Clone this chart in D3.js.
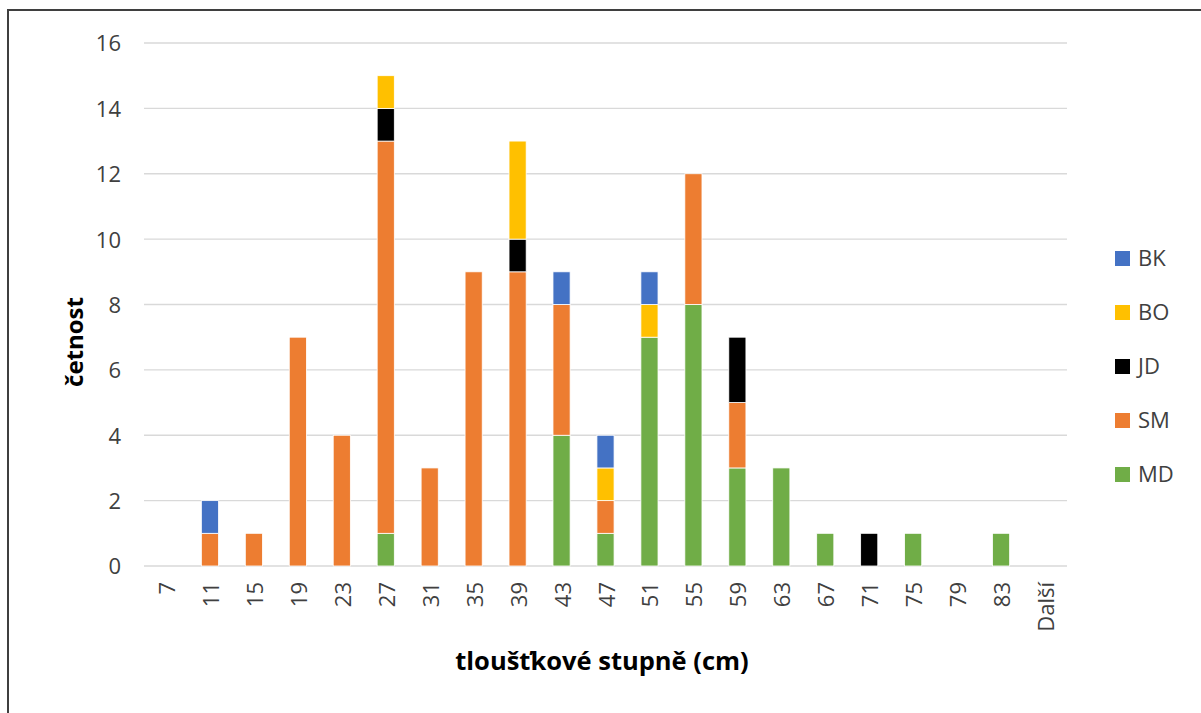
<!DOCTYPE html>
<html>
<head>
<meta charset="utf-8">
<script src="https://cdn.jsdelivr.net/npm/d3@7"></script>
<style>
  html, body { margin: 0; padding: 0; background: #fff; }
  svg { display: block; font-family: "Open Sans", Lato, "Noto Sans", sans-serif; }
</style>
</head>
<body>
<script>
// Diameter classes (cm) and tree counts per species
const categories = ["7","11","15","19","23","27","31","35","39","43","47","51","55","59","63","67","71","75","79","83","Další"];
const MD = [0,0,0,0,0,1,0,0,0,4,1,7,8,3,3,1,0,1,0,1,0];
const SM = [0,1,1,7,4,12,3,9,9,4,1,0,4,2,0,0,0,0,0,0,0];
const JD = [0,0,0,0,0,1,0,0,1,0,0,0,0,2,0,0,1,0,0,0,0];
const BO = [0,0,0,0,0,1,0,0,3,0,1,1,0,0,0,0,0,0,0,0,0];
const BK = [0,1,0,0,0,0,0,0,0,1,1,1,0,0,0,0,0,0,0,0,0];
const yTicks = [0,2,4,6,8,10,12,14,16];

// stacking order bottom -> top
const seriesDefs = [
  { key: "MD", values: MD, color: "#70ad47" },
  { key: "SM", values: SM, color: "#ed7d31" },
  { key: "JD", values: JD, color: "#000000" },
  { key: "BO", values: BO, color: "#ffc000" },
  { key: "BK", values: BK, color: "#4472c4" }
];

const W = 1201, H = 713;
const plot = { left: 144, right: 1067, top: 43, bottom: 566 };
const tickFont = 22;

const svg = d3.select("body").append("svg").attr("width", W).attr("height", H);

// outer frame
svg.append("path")
  .attr("d", `M8,${H + 5} L8,10 L${W + 5},10`)
  .attr("fill", "none").attr("stroke", "#3f3f3f").attr("stroke-width", 2);

const x = d3.scaleBand().domain(categories).range([plot.left, plot.right]).paddingInner(0.61).paddingOuter(0.305);
const y = d3.scaleLinear().domain([0, 16]).range([plot.bottom, plot.top]);

// gridlines
svg.append("g").selectAll("line").data(yTicks).join("line")
  .attr("x1", plot.left).attr("x2", plot.right)
  .attr("y1", d => y(d)).attr("y2", d => y(d))
  .attr("stroke", "#d9d9d9").attr("stroke-width", 1.3);

// y axis labels
const yAxis = d3.axisLeft(y).tickValues(yTicks).tickSize(0).tickPadding(0);
const gy = svg.append("g").attr("transform", `translate(121,0)`).call(yAxis);
gy.select(".domain").remove();
gy.selectAll("text").attr("font-size", tickFont).attr("fill", "#404040")
  .attr("font-family", "'Open Sans', Lato, sans-serif").attr("dy", "0.36em");

// stacked bars
const table = categories.map((c, i) => {
  const row = { cat: c };
  seriesDefs.forEach(s => row[s.key] = s.values[i]);
  return row;
});
const stack = d3.stack().keys(seriesDefs.map(s => s.key));
const stacked = stack(table);

svg.append("g").selectAll("g").data(stacked).join("g")
  .attr("fill", (d, i) => seriesDefs[i].color)
  .selectAll("rect").data(d => d.filter(p => p[1] - p[0] > 0)).join("rect")
  .attr("x", d => x(d.data.cat))
  .attr("width", x.bandwidth())
  .attr("y", d => y(d[1]))
  .attr("height", d => y(d[0]) - y(d[1]))
  .attr("stroke", "#ffffff").attr("stroke-width", 0.8);

// x axis labels (rotated)
const xAxis = d3.axisBottom(x).tickSize(0).tickPadding(0);
const gx = svg.append("g").attr("transform", `translate(0,${plot.bottom})`).call(xAxis);
gx.select(".domain").remove();
gx.selectAll("text")
  .attr("font-size", tickFont).attr("fill", "#404040").attr("font-family", "'Open Sans', Lato, sans-serif")
  .attr("text-anchor", "end")
  .attr("dy", null)
  .attr("transform", "translate(9,16) rotate(-90)");

// axis titles
svg.append("text")
  .attr("x", 602).attr("y", 670)
  .attr("text-anchor", "middle")
  .attr("font-size", 25.5).attr("font-weight", "bold").attr("fill", "#000")
  .text("tloušťkové stupně (cm)");

svg.append("text")
  .attr("transform", "translate(83,342) rotate(-90)")
  .attr("text-anchor", "middle")
  .attr("font-size", 24).attr("font-weight", "bold").attr("fill", "#000")
  .text("četnost");

// legend (top series first)
const legendItems = seriesDefs.slice().reverse();
const lg = svg.append("g").selectAll("g").data(legendItems).join("g")
  .attr("transform", (d, i) => `translate(1115,${258 + i * 54})`);
lg.append("rect").attr("x", 0).attr("y", -7).attr("width", 15).attr("height", 15).attr("fill", d => d.color);
lg.append("text").attr("x", 23).attr("y", 0).attr("dy", "0.36em")
  .attr("font-size", tickFont).attr("fill", "#404040")
  .text(d => d.key);
</script>
</body>
</html>
